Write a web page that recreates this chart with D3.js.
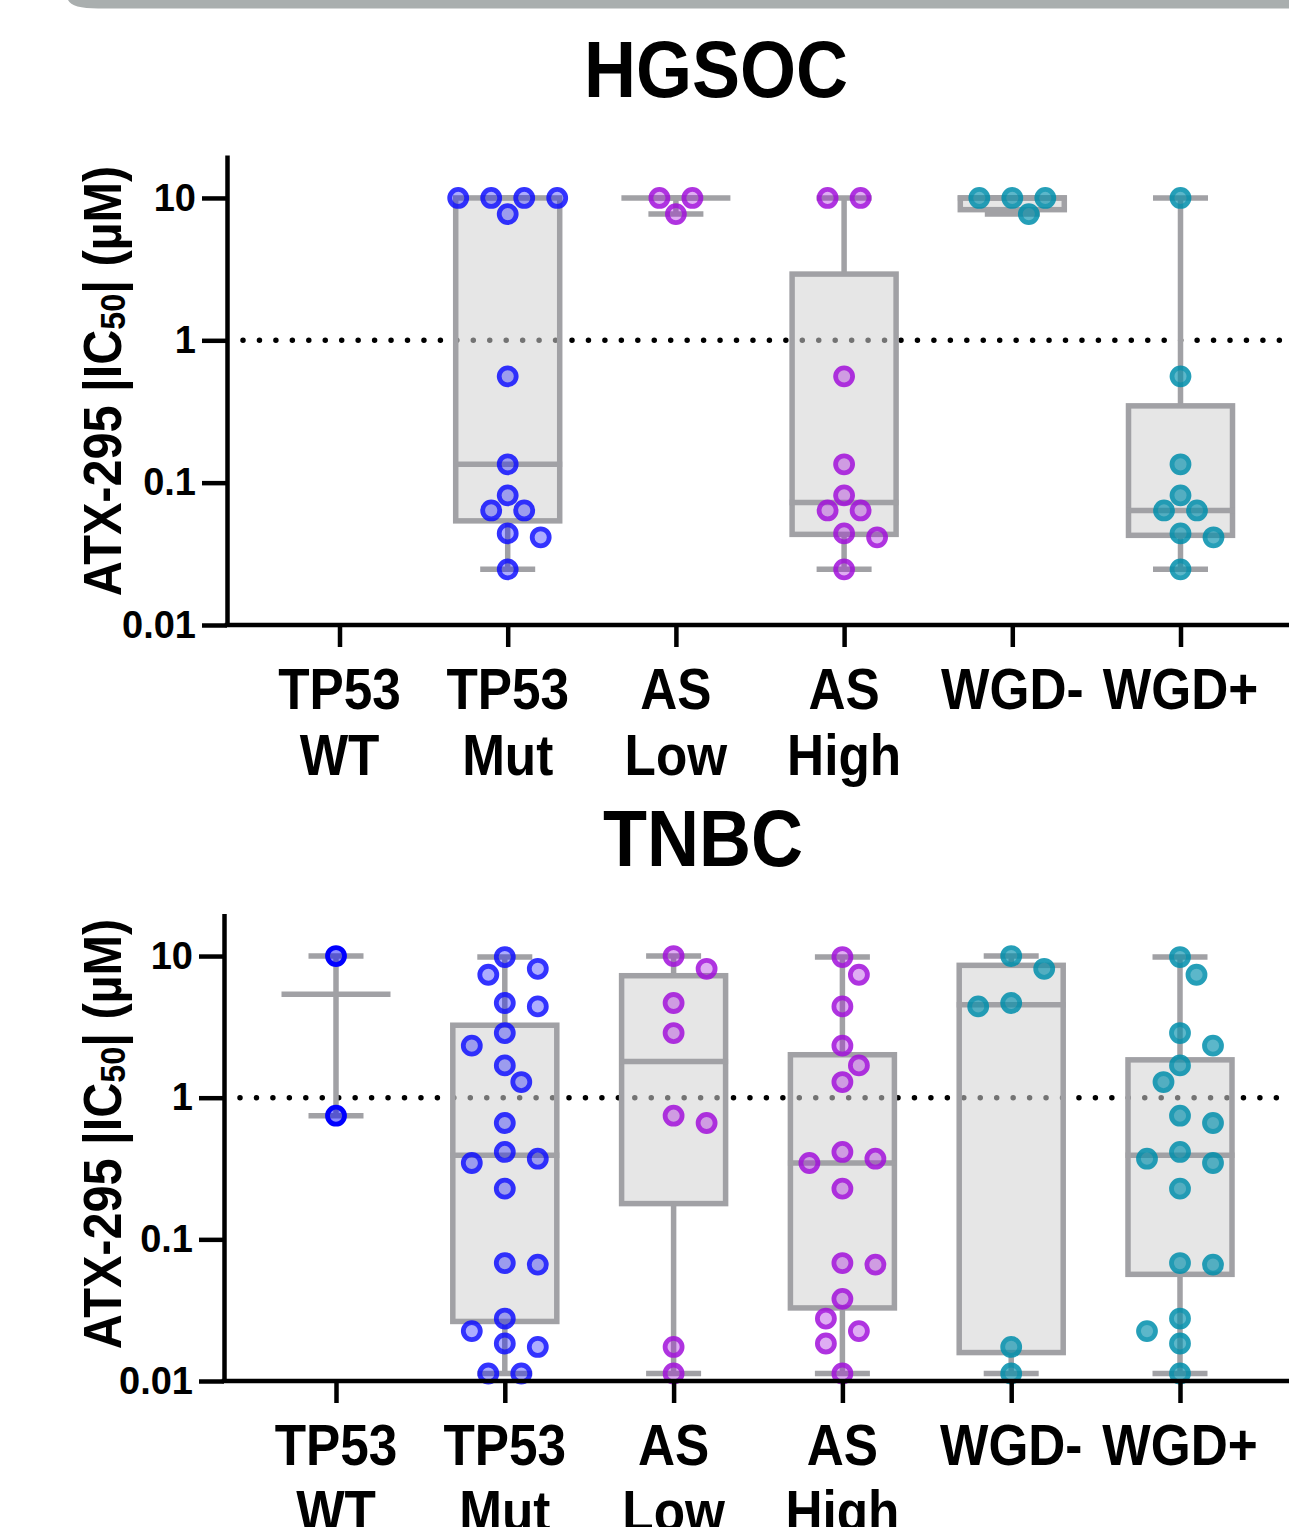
<!DOCTYPE html>
<html>
<head>
<meta charset="utf-8">
<script src="https://cdn.jsdelivr.net/npm/d3@7"></script>
<style>
  html, body { margin: 0; padding: 0; background: #fff; }
  svg { display: block; }
  text { font-family: "Liberation Sans", Arial, Helvetica, sans-serif; font-weight: bold; fill: #000; }
</style>
</head>
<body>
<svg id="chart" width="1289" height="1527"></svg>
<script>
// ---------------- DATA ----------------
const categories = ["TP53 WT", "TP53 Mut", "AS Low", "AS High", "WGD-", "WGD+"];
const yTickValues = [0.01, 0.1, 1, 10];
const yTickLabels = ["0.01", "0.1", "1", "10"];
const referenceLine = 1;
const panelTitles = ["HGSOC", "TNBC"];
const yAxisTitle = ["ATX-295 |IC", "50", "| (µM)"];

// HGSOC (µM)
const hgsocTP53WT  = [];
const hgsocTP53Mut = [10, 10, 10, 10, 7.7, 0.558, 0.1345, 0.0814, 0.0638, 0.0638, 0.044, 0.0413, 0.0246];
const hgsocASLow   = [10, 10, 7.7];
const hgsocASHigh  = [10, 10, 0.558, 0.1345, 0.0814, 0.0638, 0.0638, 0.044, 0.0413, 0.0246];
const hgsocWGDneg  = [10, 10, 10, 7.7];
const hgsocWGDpos  = [10, 0.558, 0.1345, 0.0814, 0.0638, 0.0638, 0.044, 0.0413, 0.0246];

// TNBC (µM)
const tnbcTP53WT  = [10, 0.746];
const tnbcTP53Mut = [9.84, 8.13, 7.38, 4.66, 4.41, 2.86, 2.33, 1.69, 1.29, 0.663, 0.414, 0.371, 0.346, 0.228, 0.068, 0.0663, 0.0276, 0.0225, 0.0184, 0.0174, 0.0113, 0.0113];
const tnbcASLow   = [10, 8.13, 4.66, 2.86, 0.746, 0.663, 0.0174, 0.0113];
const tnbcASHigh  = [9.84, 7.38, 4.41, 2.33, 1.69, 1.29, 0.414, 0.371, 0.346, 0.228, 0.068, 0.0663, 0.038, 0.0276, 0.0225, 0.0184, 0.0113];
const tnbcWGDneg  = [10, 8.13, 4.66, 4.41, 0.0174, 0.0113];
const tnbcWGDpos  = [9.84, 7.38, 2.86, 2.33, 1.69, 1.29, 0.746, 0.663, 0.414, 0.371, 0.346, 0.228, 0.068, 0.0663, 0.0276, 0.0225, 0.0184, 0.0113];

const hgsocGroups = [hgsocTP53WT, hgsocTP53Mut, hgsocASLow, hgsocASHigh, hgsocWGDneg, hgsocWGDpos];
const tnbcGroups  = [tnbcTP53WT, tnbcTP53Mut, tnbcASLow, tnbcASHigh, tnbcWGDneg, tnbcWGDpos];

// ---------------- STYLE / LAYOUT ----------------
const palette = [
  { stroke: "#0000ff", fillOp: 0.45, op: 1.0 },
  { stroke: "#1010ff", fillOp: 0.40, op: 0.85 },
  { stroke: "#a210db", fillOp: 0.40, op: 0.85 },
  { stroke: "#a210db", fillOp: 0.40, op: 0.85 },
  { stroke: "#008fac", fillOp: 0.75, op: 0.85 },
  { stroke: "#008fac", fillOp: 0.75, op: 0.85 }
];
const boxStroke = "#a1a1a5";
const panels = [
  { title: panelTitles[0], groups: hgsocGroups, titleX: 716, titleY: 97,
    axisX: 227, yRange: [625, 155.1], xRange: [339.5, 1180.5], yLabelX: 121, yLabelY: 381 },
  { title: panelTitles[1], groups: tnbcGroups, titleX: 703, titleY: 866,
    axisX: 224, yRange: [1381, 913.4], xRange: [336, 1180], yLabelX: 121, yLabelY: 1134 }
];
const W = 1289;
const textScaleX = 0.9;

const svg = d3.select("#chart");

// top UI strip
svg.append("path")
  .attr("d", "M68,0 Q72,8.5 98,8.5 H1289 V0 Z")
  .attr("fill", "#a9aeae");

// Prism-like quartiles ((n+1)p method)
function pct(sorted, p) {
  const n = sorted.length;
  const pos = p * (n + 1);
  if (pos <= 1) return sorted[0];
  if (pos >= n) return sorted[n - 1];
  const lo = Math.floor(pos);
  return sorted[lo - 1] + (pos - lo) * (sorted[lo] - sorted[lo - 1]);
}

// simple beeswarm on a half-pitch grid
function swarm(vals, yScale, D, s) {
  const pts = vals.map(v => ({ v, y: yScale(v) })).sort((a, b) => a.y - b.y);
  const placed = [];
  let i = 0;
  while (i < pts.length) {
    let j = i;
    while (j < pts.length && pts[j].v === pts[i].v) j++;
    const n = j - i;
    if (n > 1) {
      for (let k = 0; k < n; k++) {
        const p = pts[i + k];
        p.dx = (k - (n - 1) / 2) * 2 * s;
        placed.push(p);
      }
    } else {
      const p = pts[i];
      const ok = dx => placed.every(q => Math.hypot(q.dx - dx, q.y - p.y) >= D);
      let found = null;
      for (let k = 0; k < 30 && found === null; k++) {
        if (k === 0) { if (ok(0)) found = 0; continue; }
        const near = placed.filter(q => Math.abs(q.y - p.y) < 3 * D);
        const left = near.filter(q => q.dx < 0).length;
        const right = near.filter(q => q.dx > 0).length;
        const order = left < right ? [-k, k] : [k, -k];
        for (const kk of order) { if (ok(kk * s)) { found = kk * s; break; } }
      }
      p.dx = found;
      placed.push(p);
    }
    i = j;
  }
  return placed;
}

function condensedText(parent, x, y, str, size, anchor, rotate) {
  const g = parent.append("g")
    .attr("transform", `translate(${x},${y})` + (rotate ? ` rotate(${rotate})` : ""));
  return g.append("text")
    .attr("transform", `scale(${textScaleX},1)`)
    .attr("text-anchor", anchor || "middle")
    .attr("font-size", size)
    .text(str);
}

panels.forEach(P => {
  const g = svg.append("g");
  const y = d3.scaleLog().domain([0.01, 20]).range(P.yRange);
  const x = d3.scalePoint().domain(categories).range(P.xRange);
  const yBase = P.yRange[0];

  // title
  condensedText(g, P.titleX, P.titleY, P.title, 80);

  // dotted reference line
  g.append("line")
    .attr("x1", P.axisX + 16).attr("x2", W + 10)
    .attr("y1", y(referenceLine)).attr("y2", y(referenceLine))
    .attr("stroke", "#000").attr("stroke-width", 5.5)
    .attr("stroke-linecap", "round")
    .attr("stroke-dasharray", "0 16.45");

  const boxHalf = 52, capHalf = 27.5, medHalf = 54.5;

  P.groups.forEach((vals, ci) => {
    if (!vals.length) return;
    const cx = x(categories[ci]);
    const s = vals.slice().sort((a, b) => a - b);
    const n = s.length;
    const mn = s[0], mx = s[n - 1];
    const med = d3.median(s);
    const q1 = pct(s, 0.25), q3 = pct(s, 0.75);
    const gg = g.append("g");
    const hasBox = n > 3;

    // whiskers
    if (hasBox) {
      gg.append("line").attr("x1", cx).attr("x2", cx).attr("y1", y(mx)).attr("y2", y(q3))
        .attr("stroke", boxStroke).attr("stroke-width", 5.5);
      gg.append("line").attr("x1", cx).attr("x2", cx).attr("y1", y(q1)).attr("y2", y(mn))
        .attr("stroke", boxStroke).attr("stroke-width", 5.5);
    } else {
      gg.append("line").attr("x1", cx).attr("x2", cx).attr("y1", y(mx)).attr("y2", y(mn))
        .attr("stroke", boxStroke).attr("stroke-width", 5.5);
    }
    [mn, mx].forEach(v => {
      gg.append("line").attr("x1", cx - capHalf).attr("x2", cx + capHalf)
        .attr("y1", y(v)).attr("y2", y(v))
        .attr("stroke", boxStroke).attr("stroke-width", 5.5);
    });
    if (hasBox) {
      gg.append("rect")
        .attr("x", cx - boxHalf).attr("width", 2 * boxHalf)
        .attr("y", y(q3)).attr("height", Math.max(0.5, y(q1) - y(q3)))
        .attr("fill", "#d2d2d2").attr("fill-opacity", 0.55)
        .attr("stroke", boxStroke).attr("stroke-width", 5.5);
    }
    gg.append("line").attr("x1", cx - medHalf).attr("x2", cx + medHalf)
      .attr("y1", y(med)).attr("y2", y(med))
      .attr("stroke", boxStroke).attr("stroke-width", 5.5);

    // points
    const st = palette[ci];
    const pts = swarm(vals, y, 23, 16.5);
    gg.append("g").selectAll("circle").data(pts).join("circle")
      .attr("cx", d => cx + d.dx).attr("cy", d => d.y).attr("r", 8.5)
      .attr("fill", st.stroke).attr("fill-opacity", st.fillOp)
      .attr("stroke", st.stroke).attr("stroke-width", 4.8)
      .attr("opacity", st.op);
  });

  // y axis
  const yAxis = d3.axisLeft(y).tickValues(yTickValues)
    .tickFormat((d, i) => yTickLabels[i]).tickSize(25).tickSizeOuter(0).tickPadding(6);
  const ya = g.append("g").attr("transform", `translate(${P.axisX},0)`).call(yAxis);
  ya.select(".domain").attr("stroke", "#000").attr("stroke-width", 4.5);
  ya.selectAll(".tick line").attr("stroke", "#000").attr("stroke-width", 4.5);
  ya.selectAll(".tick text")
    .attr("font-size", 38).attr("font-weight", "bold")
    .attr("font-family", "'Liberation Sans', Arial, sans-serif").attr("fill", "#000");

  // x axis line
  g.append("line").attr("x1", P.axisX - 2.25).attr("x2", W + 10)
    .attr("y1", yBase).attr("y2", yBase)
    .attr("stroke", "#000").attr("stroke-width", 4.5);
  const xAxis = d3.axisBottom(x).tickSize(22).tickSizeOuter(0).tickFormat("");
  const xa = g.append("g").attr("transform", `translate(0,${yBase})`).call(xAxis);
  xa.select(".domain").remove();
  xa.selectAll(".tick line").attr("stroke", "#000").attr("stroke-width", 4.5);

  // x labels (two lines)
  categories.forEach(c => {
    const parts = c.split(" ");
    parts.forEach((t, li) => {
      condensedText(g, x(c), yBase + 84 + li * 66, t, 57);
    });
  });

  // y axis title
  const lg = g.append("g").attr("transform", `translate(${P.yLabelX},${P.yLabelY}) rotate(-90)`);
  const lt = lg.append("text").attr("transform", `scale(${textScaleX},1)`)
    .attr("text-anchor", "middle").attr("font-size", 54);
  lt.append("tspan").text(yAxisTitle[0]);
  lt.append("tspan").attr("font-size", 36).attr("dy", 4).text(yAxisTitle[1]);
  lt.append("tspan").attr("dy", -4).text(yAxisTitle[2]);
});
</script>
</body>
</html>
